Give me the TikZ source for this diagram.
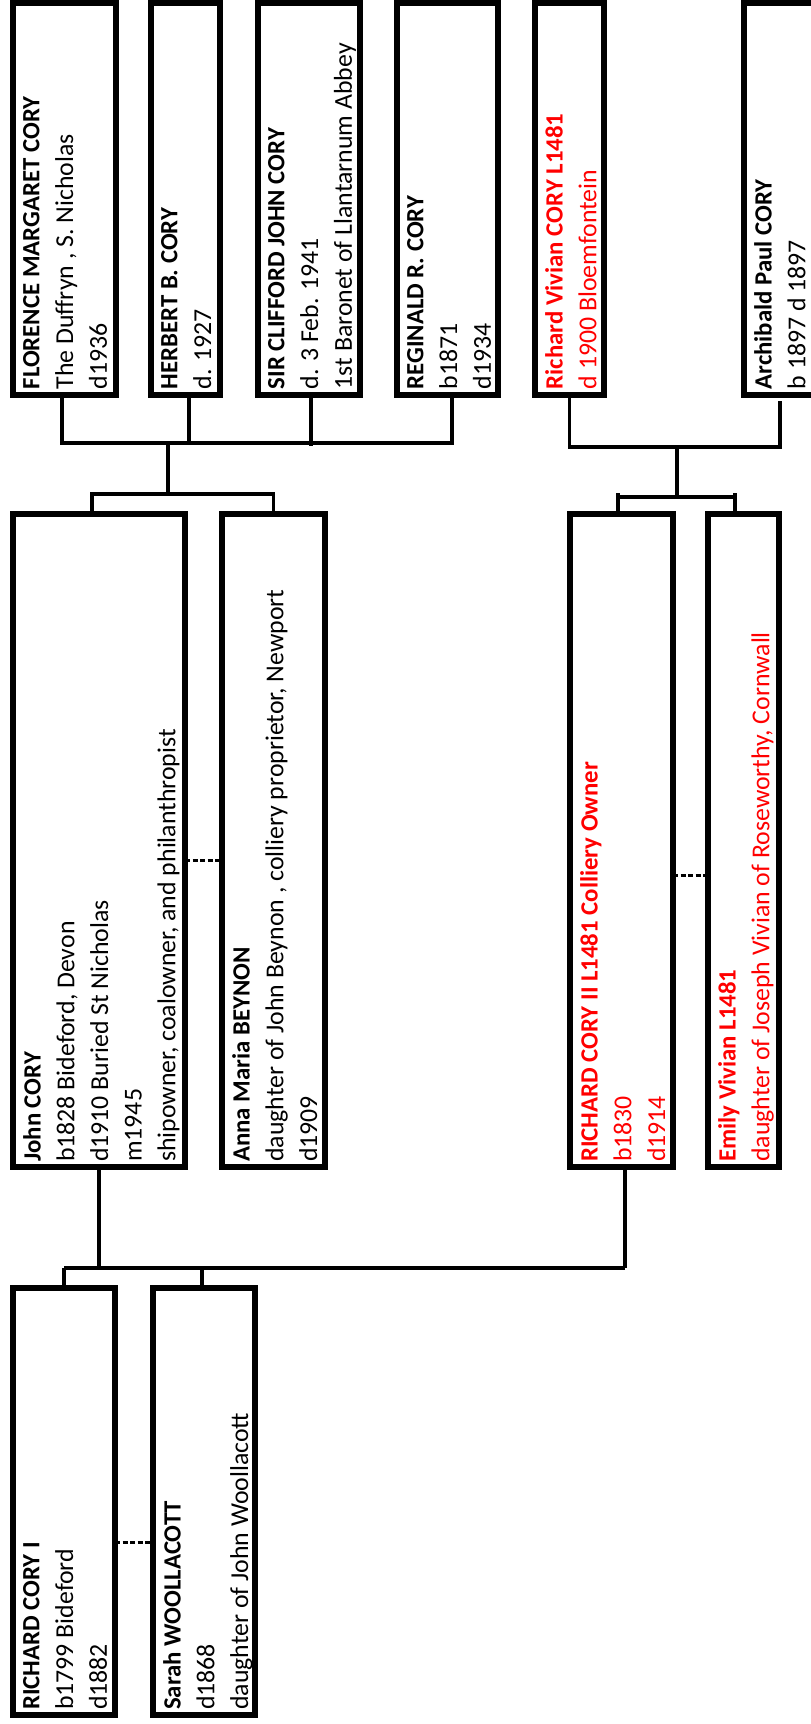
\documentclass[tikz,border=0pt]{standalone}
\usepackage{fontspec}
\setmainfont{Carlito}
\definecolor{kin}{RGB}{255,0,0}
% bold first line of each card
\newcommand\who[1]{{\fontsize{24.8}{33.7}\selectfont\bfseries #1}}
\begin{document}
\begin{tikzpicture}[x=1pt,y=-1pt,
  person/.style={draw, line width=6pt, rectangle, inner sep=0pt, outer sep=0pt, anchor=north west},
  info/.style={rotate=90, anchor=north west, align=left, inner sep=0pt,
               font=\fontsize{25.8}{33.7}\selectfont},
  link/.style={line width=3.1pt},
  wed/.style={line width=3pt, dash pattern=on 5pt off 2.5pt}]
\useasboundingbox (0,0) rectangle (811,1724);
\clip (0,0) rectangle (811,1724);

% ---- children of John CORY and Anna Maria BEYNON, and of Richard CORY II
\node[person, minimum width=103pt, minimum height=392pt] (fl) at (13,2.5) {};
\node[person, minimum width=69pt,  minimum height=392pt] (hb) at (151,2.5) {};
\node[person, minimum width=102pt, minimum height=392pt] (cj) at (258,2.5) {};
\node[person, minimum width=101pt, minimum height=392pt] (rr) at (397,2.5) {};
\node[person, minimum width=69pt,  minimum height=392pt] (rv) at (535,2.5) {};
\node[person, minimum width=120pt, minimum height=392pt] (ap) at (744,2.5) {};

\node[info] (fl-t) at ([shift={(10,-5)}]fl.south west)
  {\who{FLORENCE MARGARET CORY}\\The Duffryn , S. Nicholas\\d1936};
\node[info] (hb-t) at ([shift={(10,-5)}]hb.south west)
  {\who{HERBERT B. CORY}\\d. 1927};
\node[info] (cj-t) at ([shift={(10,-5)}]cj.south west)
  {\who{SIR CLIFFORD JOHN CORY}\\d. 3 Feb. 1941\\1st Baronet of Llantarnum Abbey};
\node[info] (rr-t) at ([shift={(10,-5)}]rr.south west)
  {\who{REGINALD R. CORY}\\b1871\\d1934};
\node[info, text=kin] (rv-t) at ([shift={(10,-5)}]rv.south west)
  {\who{Richard Vivian CORY L1481}\\d 1900 Bloemfontein};
\node[info] (ap-t) at ([shift={(10,-5)}]ap.south west)
  {\who{Archibald Paul CORY}\\b 1897 d 1897};

% ---- parents
\node[person, minimum width=172pt, minimum height=653pt] (jc) at (13,514) {};
\node[person, minimum width=103pt, minimum height=653pt] (ab) at (222,514) {};
\node[person, minimum width=103pt, minimum height=653pt] (r2) at (570,514) {};
\node[person, minimum width=71pt,  minimum height=653pt] (ev) at (708,514) {};

\node[info] (jc-t) at ([shift={(10,-5)}]jc.south west)
  {\who{John CORY}\\b1828 Bideford, Devon\\d1910 Buried St Nicholas\\m1945\\shipowner, coalowner, and philanthropist};
\node[info] (ab-t) at ([shift={(10,-5)}]ab.south west)
  {\who{Anna Maria BEYNON}\\daughter of John Beynon , colliery proprietor, Newport\\d1909};
\node[info, text=kin] (r2-t) at ([shift={(10,-5)}]r2.south west)
  {\who{RICHARD CORY II L1481 Colliery Owner}\\b1830\\d1914};
\node[info, text=kin] (ev-t) at ([shift={(10,-5)}]ev.south west)
  {\who{Emily Vivian L1481}\\daughter of Joseph Vivian of Roseworthy, Cornwall};

% ---- grandparents
\node[person, minimum width=102pt, minimum height=427pt] (r1) at (13,1288) {};
\node[person, minimum width=102pt, minimum height=427pt] (sw) at (153,1288) {};

\node[info] (r1-t) at ([shift={(10,-5)}]r1.south west)
  {\who{RICHARD CORY I}\\b1799 Bideford\\d1882};
\node[info] (sw-t) at ([shift={(10,-5)}]sw.south west)
  {\who{Sarah WOOLLACOTT}\\d1868\\daughter of John Woollacott};

% ---- connector end points
\coordinate (fl-d) at ([xshift=-2.5]fl.south);
\coordinate (hb-d) at ([xshift=3.5]hb.south);
\coordinate (cj-d) at ([xshift=2]cj.south);
\coordinate (rr-d) at ([xshift=4.5]rr.south);
\coordinate (rv-d) at (rv.south);
\coordinate (ap-d) at ([shift={(36,6.5)}]ap.south west);
\coordinate (jc-u) at ([xshift=-7]jc.north);
\coordinate (ab-u) at (ab.north);
\coordinate (r2-u) at ([xshift=-3.5]r2.north);
\coordinate (ev-u) at ([xshift=-8.5]ev.north);
\coordinate (jc-d) at (jc.south);
\coordinate (r2-d) at ([xshift=3.5]r2.south);
\coordinate (r1-u) at (r1.north);
\coordinate (sw-u) at ([xshift=-2]sw.north);

\coordinate (bar1) at (168,443);
\coordinate (drop1) at (168,494);
\coordinate (bar2) at (677,447);
\coordinate (drop2) at (677,497);
\coordinate (tick2) at (0,493);
\coordinate (bar3) at (0,1268);

% ---- John CORY + Anna Maria BEYNON and their children
\draw[link] (fl-d) |- (rr-d |- bar1) -- (rr-d);
\draw[link] (hb-d) -- (hb-d |- bar1);
\draw[link] (cj-d) -- ([yshift=-3]cj-d |- bar1);
\draw[link] (bar1) -- (drop1);
\draw[link] (jc-u) |- (ab-u |- drop1) -- (ab-u);

% ---- Richard CORY II + Emily Vivian and their children
\draw[link] (rv-d) |- (ap-d |- bar2) -- (ap-d);
\draw[link] (bar2) -- (drop2);
\draw[link] (r2-u |- drop2) -- (ev-u |- drop2);
\draw[link] (r2-u |- tick2) -- (r2-u);
\draw[link] (ev-u |- tick2) -- (ev-u);

% ---- Richard CORY I + Sarah WOOLLACOTT and their children
\draw[link] (jc-d) -- (jc-d |- bar3);
\draw[link] (r2-d) -- (r2-d |- bar3);
\draw[link] (r1-u |- bar3) -- (r2-d |- bar3);
\draw[link] (r1-u |- bar3) -- (r1-u);
\draw[link] (sw-u |- bar3) -- (sw-u);

% ---- marriages
\coordinate (m1) at (0,860);
\coordinate (m2) at (0,875);
\coordinate (m3) at (0,1542);
\draw[wed] (jc.east |- m1) -- (ab.west |- m1);
\draw[wed] (r2.east |- m2) -- (ev.west |- m2);
\draw[wed] (r1.east |- m3) -- (sw.west |- m3);
\end{tikzpicture}
\end{document}
